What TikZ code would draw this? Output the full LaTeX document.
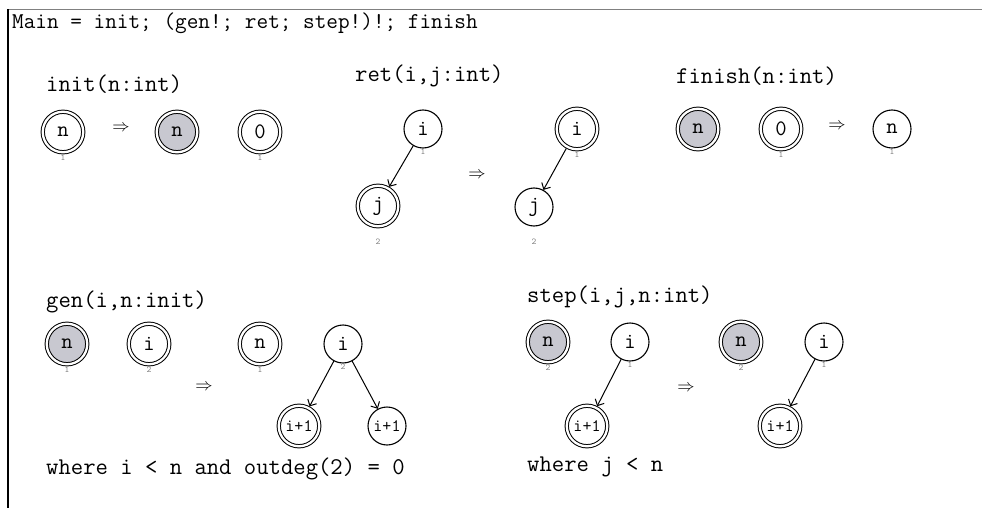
\documentclass[tikz,border=0pt]{standalone}
\usepackage{fontspec}
\usetikzlibrary{arrows.meta}
\definecolor{shade}{RGB}{200,200,208}

\begin{document}
\begin{tikzpicture}[x=1pt, y=-1pt,
   every node/.style={inner sep=0pt},
   state/.style={circle, draw, line width=1.1pt, minimum size=38pt,
      font=\ttfamily\fontsize{22}{22}\selectfont, label distance=7pt},
   ring/.style={state, double, double distance=2.3pt, line width=1pt,
      minimum size=40.5pt, outer sep=2pt, label distance=2.5pt},
   held/.style={fill=shade},
   small/.style={font=\ttfamily\fontsize{17.5}{17.5}\selectfont},
   every label/.style={font=\ttfamily\fontsize{9}{9}\selectfont, text=gray},
   title/.style={anchor=base west, font=\ttfamily\fontsize{24}{24}\selectfont},
   yields/.style={font=\fontsize{18}{18}\selectfont, yshift=-5.5pt},
   link/.style={-{Straight Barb[length=5pt,width=10pt]}, line width=1pt}]

\useasboundingbox (0,0) rectangle (982,508);
\draw[gray, line width=1.2pt] (8,9.5) -- (982,9.5);
\draw[line width=1.2pt] (8,9.5) -- (8,508);

\node[title, font=\ttfamily\fontsize{22.6}{22.6}\selectfont] (main) at (12,29)
   {Main = init; (gen!; ret; step!)!; finish};

% init
\node[title] (init) at (46,92) {init(n:int)};
\node[ring, label=below:1] (in1) at (63,132) {n};
\node[yields] (iy) at (121,123) {$\Rightarrow$};
\node[ring, held] (in2) at (177,132) {n};
\node[ring, label=below:1] (in3) at (260,132) {0};

% ret
\node[title] (ret) at (355,82) {ret(i,j:int)};
\node[state, label=below:1] (ri1) at (423,129) {i};
\node[ring, label={[label distance=10.5pt]below:2}] (rj1) at (378,206) {j};
\node[yields] (ry) at (477,170) {$\Rightarrow$};
\node[ring, label=below:1] (ri2) at (577,129) {i};
\node[state, label={[label distance=12.5pt]below:2}] (rj2) at (534,207) {j};
\draw[link] (ri1) -- (rj1);
\draw[link] (ri2) -- (rj2);

% finish
\node[title] (fin) at (676,84) {finish(n:int)};
\node[ring, held] (fn1) at (698,129) {n};
\node[ring, label=below:1] (f0) at (781,129) {0};
\node[yields] (fy) at (837,121) {$\Rightarrow$};
\node[state, label=below:1] (fn2) at (892,129) {n};

% gen
\node[title] (gen) at (46,307) {gen(i,n:init)};
\node[ring, held, label=below:1] (gn1) at (67,344) {n};
\node[ring, label=below:2] (gi1) at (149,344) {i};
\node[yields] (gy) at (204,382) {$\Rightarrow$};
\node[ring, label=below:1] (gn2) at (260,344) {n};
\node[state, label=below:2] (gi2) at (343,344) {i};
\node[ring, small] (gk1) at (299,426) {i+1};
\node[state, small] (gk2) at (387,426) {i+1};
\draw[link] (gi2) -- (gk1);
\draw[link] (gi2) -- (gk2);
\node[title] (gw) at (46,474) {where i < n and outdeg(2) = 0};

% step
\node[title] (step) at (527,302) {step(i,j,n:int)};
\node[ring, held, label=below:2] (sn1) at (548,342) {n};
\node[state, label=below:1] (si1) at (630,342) {i};
\node[ring, small] (sk1) at (587,426) {i+1};
\node[yields] (sy) at (686,383) {$\Rightarrow$};
\node[ring, held, label=below:2] (sn2) at (741,342) {n};
\node[state, label=below:1] (si2) at (824,342) {i};
\node[ring, small] (sk2) at (780,426) {i+1};
\draw[link] (si1) -- (sk1);
\draw[link] (si2) -- (sk2);
\node[title] (sw) at (527,471) {where j < n};

\end{tikzpicture}
\end{document}
